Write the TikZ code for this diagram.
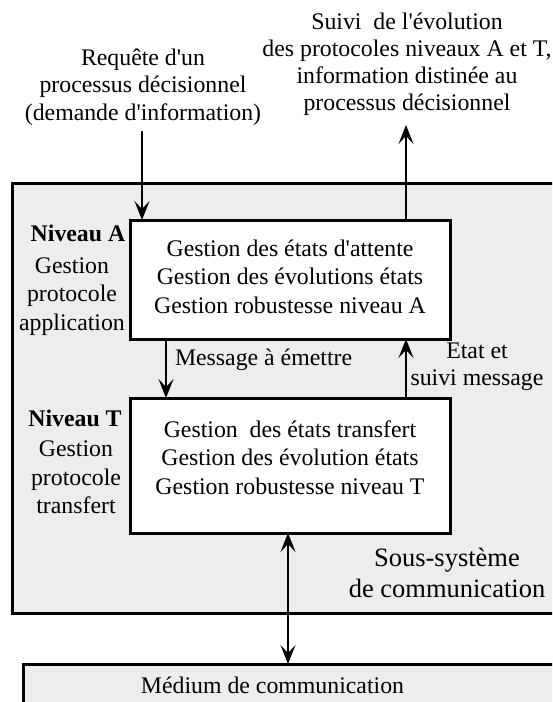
\documentclass[tikz,border=0pt]{standalone}
\usepackage{fontspec}
\setmainfont{Liberation Serif}[Ligatures=TeXOff]
\usetikzlibrary{arrows.meta}
\definecolor{bggray}{HTML}{EDEDED}
\begin{document}
\begin{tikzpicture}[x=1pt,y=-1pt,
  every node/.style={font=\fontsize{23.8}{28.5}\selectfont, inner sep=0pt, outer sep=0pt},
  box/.style={draw, line width=3pt, rectangle},
  arrtip/.tip={Stealth[length=19pt,width=15pt,inset=8pt]},
  arr/.style={line width=2.2pt, -arrtip},
  twoarr/.style={line width=2.2pt, arrtip-arrtip},
  txt/.style={align=center},
]
\useasboundingbox (0,0) rectangle (552,702);
\clip (0,0) rectangle (552,702);
% outer sub-system
\node[box, fill=bggray, anchor=north west, minimum width=560pt, minimum height=430pt] (S) at (12,183) {};
% medium
\node[box, fill=bggray, anchor=north west, minimum width=560pt, minimum height=80pt] (M) at (23,664) {};
\node (Mtxt) at (272.5,685) {Médium de communication};
% level boxes
\node[box, fill=white, minimum width=320pt, minimum height=119pt] (A) at (290,279.5) {};
\node[box, fill=white, minimum width=320pt, minimum height=135pt] (T) at (290,465.5) {};
\node[txt] (Atxt) at (290,276.5) {Gestion des états d'attente\\Gestion des évolutions états\\Gestion robustesse niveau A};
\node[txt] (Ttxt) at (290,457.5) {Gestion~~des états transfert\\Gestion des évolution états\\Gestion robustesse niveau T};
% left labels
\node (NA) at (78,233) {\bfseries Niveau A};
\node[txt] (GA) at (72,296.5) {Gestion\\protocole\\application};
\node (NT) at (75,418) {\bfseries Niveau T};
\node[txt] (GT) at (76,477.5) {Gestion\\protocole\\transfert};
% sub-system label
\node[txt, font=\fontsize{26.5}{31}\selectfont] (Stxt) at (447,572.5) {Sous-système\\de communication};
% top texts
\node[txt, font=\fontsize{23.8}{27.5}\selectfont] (req) at (143,87) {Requête d'un\\processus décisionnel\\(demande d'information)};
\node[txt, font=\fontsize{23.8}{27}\selectfont] (suivi) at (407,64.5) {Suivi~~de l'évolution\\des protocoles niveaux A et T,\\information distinée au\\processus décisionnel};
% connector labels
\node[anchor=west] (msg) at (175,360) {Message à émettre};
\node[txt, font=\fontsize{23.8}{27}\selectfont] (etat) at (477,366.5) {Etat et\\suivi message};
% connectors
\coordinate (reqEnd) at (142,131);
\coordinate (outTip) at (406,125);
\draw[arr] (reqEnd) -- (A.north -| reqEnd);
\draw[arr] (A.north -| outTip) -- (outTip);
\draw[arr] (A.south -| 166,0) -- (T.north -| 166,0);
\draw[arr] (T.north -| outTip) -- (A.south -| outTip);
\draw[twoarr] (T.south -| 288,0) -- (M.north -| 288,0);
\end{tikzpicture}
\end{document}
